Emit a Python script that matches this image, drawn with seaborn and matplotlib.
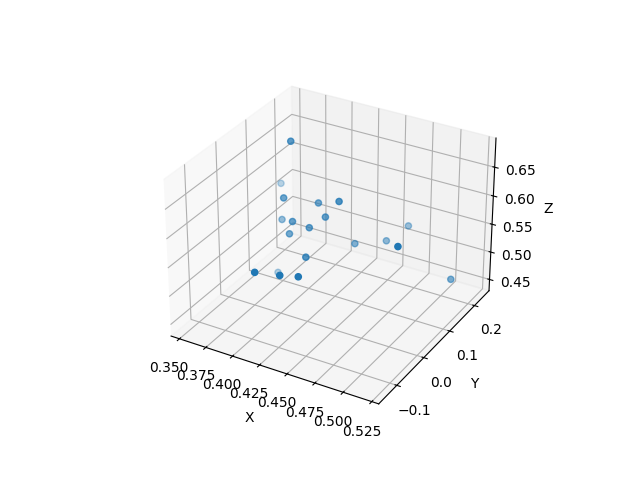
import matplotlib
matplotlib.use('Agg')
import matplotlib.pyplot as plt
import seaborn as sns

x_values = [0.382,0.381,0.388,0.413,0.428,0.390,0.399,0.421,0.412,0.399,0.446,0.416,
            0.385,0.397,0.403,0.416,0.467,0.479,0.479,0.520]
y_values = [0.108,0.076,0.059,0.087,0.103,0.045,0.048,0.081,0.058,0.037,0.090,0.030,
            -0.033,0.003,-0.013,0.003,0.122,0.155,0.116,0.148]
z_values = [0.679,0.618,0.603,0.596,0.600,0.572,0.572,0.578,0.564,0.555,0.541,0.526,
            0.509,0.500,0.505,0.503,0.544,0.563,0.543,0.494]
z_ticks = [0.45, 0.50, 0.55, 0.60, 0.65]

color = sns.color_palette('tab10')[0]

fig = plt.figure(figsize=(6.4, 4.8), dpi=100)
ax = fig.add_subplot(projection='3d')
ax.scatter(x_values, y_values, z_values, color=color)
ax.set_xlim(0.342, 0.531)
ax.set_ylim(-0.1645, 0.2605)
ax.set_zlim(0.4293, 0.6999)
ax.set_zticks(z_ticks)
ax.set_xlabel('X')
ax.set_ylabel('Y')
ax.set_zlabel('Z')
fig.canvas.draw()
for axis_obj in (ax.xaxis, ax.yaxis, ax.zaxis):
    for label in axis_obj.get_ticklabels():
        label.set_fontsize(10)
ax.tick_params(axis='x', labelsize=10)
ax.tick_params(axis='y', labelsize=10)
ax.tick_params(axis='z', labelsize=10)
fig.savefig('out.png', dpi=100)
